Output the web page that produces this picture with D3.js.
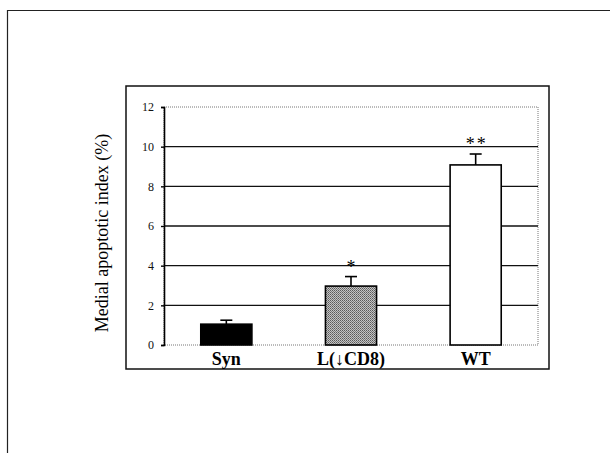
<!DOCTYPE html>
<html>
<head>
<meta charset="utf-8">
<script src="https://cdn.jsdelivr.net/npm/d3@7"></script>
<style>
  body { margin: 0; background: #fff; }
  text { font-family: "Liberation Serif", "DejaVu Serif", serif; }
</style>
</head>
<body>
<svg width="610" height="453"></svg>
<script>
const groups = ['Syn', 'L(\u2193CD8)', 'WT']
const means = [1.05, 2.97, 9.08]
const upper = [1.25, 3.45, 9.63]
const stars = ['', '*', '**']
const fills = ['#000', 'url(#stipple)', '#fff']
const yTicks = [0, 2, 4, 6, 8, 10, 12]

const svg = d3.select('svg')

// stipple pattern for the middle bar
const pat = svg.append('defs').append('pattern')
    .attr('id', 'stipple').attr('width', 2).attr('height', 2)
    .attr('patternUnits', 'userSpaceOnUse')
pat.append('rect').attr('width', 2).attr('height', 2).attr('fill', '#c4c4c4')
pat.append('rect').attr('width', 1).attr('height', 1).attr('fill', '#5a5a5a')
pat.append('rect').attr('x', 1).attr('y', 1).attr('width', 1).attr('height', 1).attr('fill', '#7a7a7a')

// outer page frame (top and left only)
svg.append('path').attr('d', 'M7.5,453V10.5H610')
    .attr('fill', 'none').attr('stroke', '#222').attr('stroke-width', 1.2)

// chart box
svg.append('rect').attr('x', 126).attr('y', 86).attr('width', 423).attr('height', 283)
    .attr('fill', 'none').attr('stroke', '#111').attr('stroke-width', 1.5)

const x = d3.scaleBand().domain(groups).range([164, 538])
    .paddingInner(0.59).paddingOuter(0.295)
const y = d3.scaleLinear().domain([0, 12]).range([345, 107])

// plot area: dotted top/right/bottom
svg.append('rect').attr('x', 164).attr('y', y(12))
    .attr('width', 538 - 164).attr('height', y(0) - y(12))
    .attr('fill', 'none').attr('stroke', '#777').attr('stroke-width', 1)
    .attr('stroke-dasharray', '1,1')

// gridlines
svg.append('g').selectAll('line').data(yTicks.filter(d => d > 0 && d < 12)).enter()
  .append('line')
    .attr('x1', 164).attr('x2', 538)
    .attr('y1', d => y(d)).attr('y2', d => y(d))
    .attr('stroke', '#111').attr('stroke-width', 1.4)

// y axis
const yAxis = svg.append('g').attr('transform', 'translate(164,0)')
    .call(d3.axisLeft(y).tickValues(yTicks).tickSize(3).tickPadding(7))
yAxis.select('.domain').attr('stroke', '#000').attr('stroke-width', 1.6)
yAxis.selectAll('line').attr('stroke', '#000').attr('stroke-width', 1.4)
yAxis.selectAll('text').attr('font-size', 12).attr('fill', '#111')
    .style('font-family', '"Liberation Serif", serif')

// bars
svg.append('g').selectAll('rect').data(groups).enter()
  .append('rect')
    .attr('x', d => x(d))
    .attr('y', (d, i) => y(means[i]))
    .attr('width', x.bandwidth())
    .attr('height', (d, i) => y(0) - y(means[i]))
    .attr('fill', (d, i) => fills[i])
    .attr('stroke', '#000').attr('stroke-width', 1.6)

// error bars (upper only)
const eb = svg.append('g').selectAll('g').data(groups).enter().append('g')
eb.append('line')
    .attr('x1', d => x(d) + x.bandwidth() / 2).attr('x2', d => x(d) + x.bandwidth() / 2)
    .attr('y1', (d, i) => y(means[i])).attr('y2', (d, i) => y(upper[i]))
    .attr('stroke', '#000').attr('stroke-width', 1.6)
eb.append('line')
    .attr('x1', d => x(d) + x.bandwidth() / 2 - 6).attr('x2', d => x(d) + x.bandwidth() / 2 + 6)
    .attr('y1', (d, i) => y(upper[i])).attr('y2', (d, i) => y(upper[i]))
    .attr('stroke', '#000').attr('stroke-width', 1.6)

// significance stars
svg.append('g').selectAll('text').data(groups).enter()
  .append('text')
    .attr('x', d => x(d) + x.bandwidth() / 2 + 1)
    .attr('y', (d, i) => y(upper[i]) - 4)
    .attr('text-anchor', 'middle')
    .attr('font-size', 18)
    .attr('letter-spacing', 2)
    .text((d, i) => stars[i])

// category labels
svg.append('g').selectAll('text').data(groups).enter()
  .append('text')
    .attr('x', d => x(d) + x.bandwidth() / 2)
    .attr('y', 365)
    .attr('text-anchor', 'middle')
    .attr('font-size', 18).attr('font-weight', 'bold')
    .text(d => d)

// y label
svg.append('text')
    .attr('transform', 'translate(108,233) rotate(-90)')
    .attr('text-anchor', 'middle')
    .attr('font-size', 18)
    .text('Medial apoptotic index (%)')
</script>
</body>
</html>
